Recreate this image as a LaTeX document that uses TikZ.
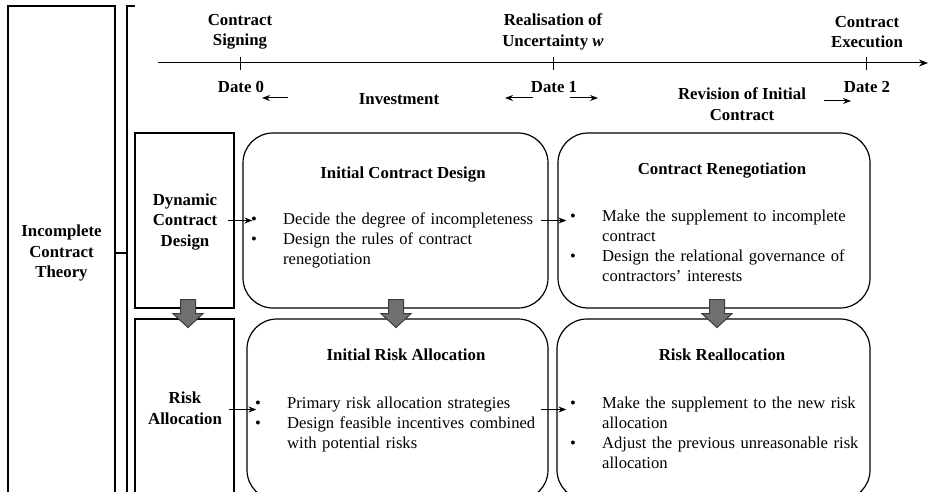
\documentclass[tikz,border=0pt]{standalone}
\usepackage{fontspec}
\setmainfont{Liberation Serif}
\usetikzlibrary{arrows.meta,calc}
\definecolor{blkfill}{RGB}{112,112,112}
\definecolor{blkdraw}{RGB}{60,60,60}
\newcommand{\bitem}[1]{\par\noindent\hangindent=33pt\hangafter=1\makebox[33pt][l]{\hspace{1pt}\textbullet}\strut#1\par}
\tikzset{
  hd/.style={font=\fontsize{16.8}{20.5}\selectfont\bfseries, align=center, inner sep=0pt},
  sqbox/.style={draw, line width=1.2pt, inner sep=0pt},
  rbox/.style={draw, line width=1.2pt, rounded corners=30pt, inner sep=0pt},
  lst/.style={font=\fontsize{16.6}{20}\selectfont, anchor=north west, inner sep=0pt, text width=300pt, align=left},
  arr/.style={-{Stealth[length=8pt,width=6pt]}, line width=1pt},
  ln/.style={line width=1.2pt},
  blk/.style={fill=blkfill, draw=blkdraw, line width=1pt},
}
\begin{document}
\begin{tikzpicture}[x=1pt,y=-1pt]
\clip (0,0) rectangle (928,492);
% outer box and bracket
\node[sqbox, minimum width=107pt, minimum height=494pt, hd] (ict) at (61.5,253) {Incomplete\\Contract\\Theory};
\coordinate (brtop) at (135,6);
\coordinate (brcorner) at (127,6);
\coordinate (brbot) at (127,500);
\draw[ln] (brtop) -- (brcorner) -- (brbot);
\draw[ln] (ict.east) -- (ict.east -| brcorner);
% timeline
\coordinate (tl0) at (158,63);
\coordinate (tl1) at (928,63);
\draw[-{Stealth[length=9pt,width=7pt]}, line width=1pt] (tl0) -- (tl1);
\foreach \x/\n in {240/d0,553/d1,866/d2}{
  \coordinate (\n) at (\x,63);
  \draw[line width=1pt] ($(\n)+(0,-6)$) -- ($(\n)+(0,7)$);
}
\node[hd] (sign) at (240,32) {Contract\\Signing};
\node[hd] (real) at (553,32) {Realisation of\\Uncertainty \textit{w}};
\node[hd] (exec) at (867,32) {Contract\\Execution};
\node[hd] (date0) at (241,87) {Date 0};
\node[hd] (date1) at (554,87) {Date 1};
\node[hd] (date2) at (867,87) {Date 2};
\node[hd] (inv) at (399,99) {Investment};
\node[hd] (rev) at (742,104) {Revision of Initial\\Contract};
\coordinate (a0s) at (288,98); \coordinate (a0e) at (262,98);
\coordinate (a1s) at (533,98); \coordinate (a1e) at (505,98);
\coordinate (a2s) at (570,98); \coordinate (a2e) at (598,98);
\coordinate (a3s) at (824,101); \coordinate (a3e) at (851,101);
\draw[arr] (a0s) -- (a0e);
\draw[arr] (a1s) -- (a1e);
\draw[arr] (a2s) -- (a2e);
\draw[arr] (a3s) -- (a3e);
% left boxes
\node[sqbox, minimum width=99pt, minimum height=175pt] (dyn) at (184.5,220.5) {};
\node[hd] (dynlbl) at (185,222) {Dynamic\\Contract\\Design};
\node[sqbox, minimum width=99pt, minimum height=181pt] (ra) at (184.5,409.5) {};
\node[hd] (ralbl) at (185,408) {Risk\\Allocation};
% rounded boxes
\node[rbox, minimum width=305pt, minimum height=175pt] (icd) at (395.5,220.5) {};
\node[rbox, minimum width=312pt, minimum height=175pt] (cr) at (714,220.5) {};
\node[rbox, minimum width=301pt, minimum height=181pt] (ira) at (397.5,409.5) {};
\node[rbox, minimum width=313pt, minimum height=181pt] (rr) at (713.5,409.5) {};
% titles
\node[hd, anchor=base] (icdt) at (403,178) {Initial Contract Design};
\node[hd, anchor=base] (crt) at (722,174) {Contract Renegotiation};
\node[hd, anchor=base] (irat) at (406,360) {Initial Risk Allocation};
\node[hd, anchor=base] (rrt) at (722,360) {Risk Reallocation};
% lists
\node[lst] (icdl) at (250,204) {\bitem{Decide the degree of incompleteness}\bitem{Design the rules of contract\newline renegotiation}};
\node[lst] (crl) at (569,201) {\bitem{Make the supplement to incomplete\newline contract}\bitem{Design the relational governance of\newline contractors’ interests}};
\node[lst] (iral) at (254,388) {\bitem{Primary risk allocation strategies}\bitem{Design feasible incentives combined\newline with potential risks}};
\node[lst] (rrl) at (569,388) {\bitem{Make the supplement to the new risk\newline allocation}\bitem{Adjust the previous unreasonable risk\newline allocation}};
% horizontal arrows
\draw[arr] ([xshift=-7pt]dyn.east) -- ([xshift=10pt]icd.west);
\draw[arr] ([xshift=-8pt]icd.east) -- ([xshift=9pt]cr.west);
\draw[arr] ([xshift=-6pt]ra.east) -- ([xshift=10pt]ira.west);
\draw[arr] ([xshift=-8pt]ira.east) -- ([xshift=10pt]rr.west);
% block arrows
\draw[blk] ([xshift=-4pt,yshift=9pt]dyn.south) -- ++(15,0) -- ++(0,14) -- ++(7.5,0) -- ++(-15,14) -- ++(-15,-14) -- ++(7.5,0) -- cycle;
\draw[blk] ([xshift=-7pt,yshift=9pt]icd.south) -- ++(15,0) -- ++(0,14) -- ++(7.5,0) -- ++(-15,14) -- ++(-15,-14) -- ++(7.5,0) -- cycle;
\draw[blk] ([xshift=-4.5pt,yshift=9pt]cr.south) -- ++(15,0) -- ++(0,14) -- ++(7.5,0) -- ++(-15,14) -- ++(-15,-14) -- ++(7.5,0) -- cycle;
\end{tikzpicture}
\end{document}
